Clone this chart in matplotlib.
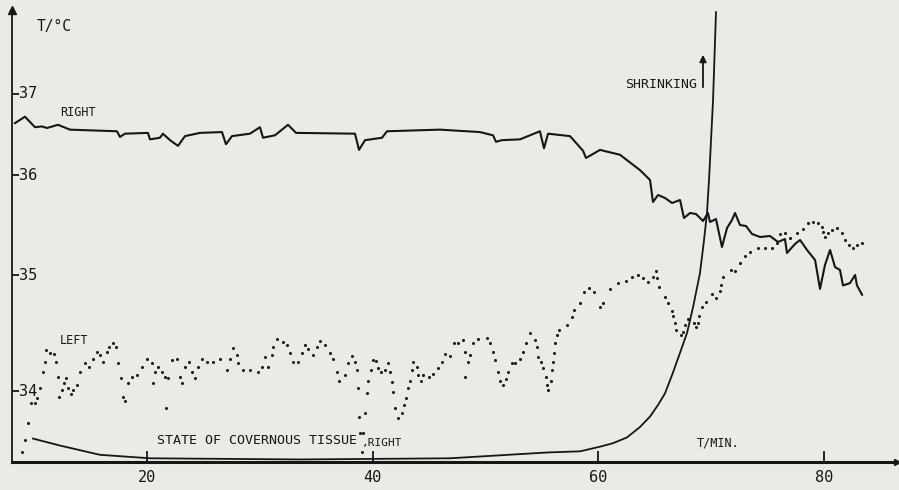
import numpy as np
import matplotlib.pyplot as plt

# time / min and temperature / deg C
right_t = [8.25, 9.14, 10.03, 10.65, 11.09, 12.07, 13.13, 17.30, 17.57, 18.01,
           20.05, 20.23, 21.12, 21.38, 22.01, 22.72, 23.34, 24.67, 26.62, 26.97,
           27.51, 29.10, 29.99, 30.26, 31.32, 32.48, 33.19, 38.42, 38.78, 39.31,
           40.82, 41.26, 45.96, 49.51, 50.67, 50.93, 51.46, 53.06, 54.83, 55.19,
           55.55, 57.50, 58.65, 58.92, 60.16, 61.93, 63.71, 64.60, 64.86, 65.31,
           65.93, 66.55, 67.26, 67.61, 68.15, 68.68, 69.30, 69.74, 69.92, 70.45,
           70.98, 71.43, 71.87, 72.14, 72.58, 73.11, 73.65, 74.36, 75.24, 75.95,
           76.57, 76.75, 77.46, 77.91, 78.53, 79.24, 79.68, 80.12, 80.57, 81.01,
           81.45, 81.72, 82.34, 82.79, 82.96, 83.41]
right_T = [36.64, 36.72, 36.59, 36.60, 36.58, 36.62, 36.56, 36.54, 36.47, 36.51,
           36.52, 36.44, 36.46, 36.51, 36.43, 36.36, 36.48, 36.52, 36.53, 36.38,
           36.48, 36.51, 36.59, 36.46, 36.49, 36.62, 36.52, 36.51, 36.31, 36.43,
           36.46, 36.54, 36.56, 36.53, 36.49, 36.41, 36.43, 36.44, 36.54, 36.33,
           36.51, 36.48, 36.30, 36.21, 36.31, 36.25, 36.06, 35.95, 35.73, 35.80,
           35.77, 35.72, 35.75, 35.57, 35.62, 35.61, 35.54, 35.62, 35.53, 35.56,
           35.28, 35.47, 35.55, 35.62, 35.50, 35.49, 35.41, 35.38, 35.39, 35.33,
           35.36, 35.22, 35.31, 35.35, 35.25, 35.15, 34.88, 35.10, 35.25, 35.08,
           35.05, 34.91, 34.93, 35.00, 34.91, 34.83]

left_t = [8.87, 9.14, 9.41, 9.67, 10.03, 10.20, 10.47, 10.74, 10.91, 11.00,
          11.36, 11.71, 11.89, 12.07, 12.16, 12.42, 12.60, 12.78, 12.95, 13.22,
          13.40, 13.75, 14.02, 14.46, 14.82, 15.17, 15.53, 15.79, 16.06, 16.42,
          16.59, 16.95, 17.21, 17.39, 17.66, 17.83, 18.01, 18.28, 18.63, 19.08,
          19.52, 19.96, 20.41, 20.50, 20.67, 20.94, 21.30, 21.56, 21.65, 21.83,
          22.18, 22.63, 22.89, 23.07, 23.34, 23.69, 23.96, 24.22, 24.49, 24.84,
          25.29, 25.82, 26.44, 27.06, 27.33, 27.60, 27.95, 28.04, 28.48, 29.10,
          29.81, 30.17, 30.43, 30.69, 31.06, 31.14, 31.50, 32.03, 32.38, 32.65,
          32.92, 33.36, 33.72, 33.99, 34.25, 34.69, 35.05, 35.32, 35.76, 36.20,
          36.47, 36.82, 37.00, 37.53, 37.80, 38.15, 38.42, 38.60, 38.69, 38.78,
          38.87, 39.04, 39.13, 39.31, 39.49, 39.57, 39.84, 40.02, 40.28, 40.46,
          40.73, 41.08, 41.35, 41.53, 41.70, 41.79, 41.97, 42.24, 42.59, 42.77,
          42.95, 43.12, 43.30, 43.48, 43.57, 43.92, 44.01, 44.28, 44.45, 44.99,
          45.34, 45.79, 46.14, 46.41, 46.85, 47.21, 47.56, 48.00, 48.14, 48.22,
          48.45, 48.62, 48.89, 49.33, 50.13, 50.40, 50.67, 50.84, 51.11, 51.29,
          51.55, 51.82, 52.00, 52.35, 52.62, 53.06, 53.33, 53.59, 53.95, 54.39,
          54.57, 54.66, 54.92, 55.10, 55.37, 55.46, 55.55, 55.81, 55.90, 55.99,
          56.07, 56.17, 56.34, 56.52, 57.23, 57.68, 57.85, 58.39, 58.74, 59.19,
          59.63, 60.16, 60.43, 61.05, 61.76, 62.47, 63.00, 63.53, 63.98, 64.42,
          64.86, 65.13, 65.22, 65.40, 65.93, 66.19, 66.55, 66.64, 66.81, 66.90,
          67.35, 67.52, 67.70, 67.97, 68.50, 68.68, 68.86, 68.94, 69.21, 69.57,
          70.10, 70.45, 70.81, 70.90, 71.07, 71.78, 72.14, 72.58, 73.02, 73.47,
          74.18, 74.80, 75.42, 75.87, 76.13, 76.57, 77.02, 77.64,
          78.17, 78.61, 79.06, 79.50, 79.86, 79.95, 80.12, 80.39, 80.74, 81.19,
          81.63, 81.90, 82.25, 82.61, 82.96, 83.41]
left_T = [33.47, 33.58, 33.72, 33.90, 33.90, 33.94, 34.03, 34.16, 34.25, 34.35,
          34.33, 34.32, 34.25, 34.12, 33.95, 34.01, 34.07, 34.11, 34.03, 33.97,
          34.01, 34.05, 34.16, 34.24, 34.21, 34.28, 34.34, 34.31, 34.25, 34.34,
          34.38, 34.41, 34.38, 34.24, 34.11, 33.95, 33.91, 34.07, 34.12, 34.14,
          34.21, 34.28, 34.24, 34.07, 34.16, 34.21, 34.16, 34.12, 33.85, 34.11,
          34.27, 34.28, 34.12, 34.07, 34.21, 34.25, 34.16, 34.11, 34.21, 34.28,
          34.25, 34.25, 34.28, 34.18, 34.28, 34.37, 34.31, 34.24, 34.18, 34.18,
          34.16, 34.21, 34.29, 34.21, 34.31, 34.38, 34.45, 34.42, 34.40, 34.33,
          34.25, 34.25, 34.33, 34.40, 34.36, 34.31, 34.38, 34.43, 34.40, 34.33,
          34.28, 34.16, 34.09, 34.14, 34.24, 34.30, 34.25, 34.18, 34.03, 33.78,
          33.64, 33.47, 33.64, 33.81, 33.98, 34.09, 34.18, 34.27, 34.26, 34.20,
          34.16, 34.18, 34.24, 34.16, 34.08, 33.99, 33.85, 33.77, 33.81, 33.88,
          33.94, 34.03, 34.09, 34.18, 34.25, 34.21, 34.14, 34.09, 34.14, 34.12,
          34.15, 34.20, 34.25, 34.32, 34.30, 34.41, 34.41, 34.44, 34.34, 34.12,
          34.25, 34.31, 34.41, 34.45, 34.46, 34.41, 34.34, 34.27, 34.16, 34.09,
          34.05, 34.10, 34.16, 34.24, 34.24, 34.28, 34.34, 34.41, 34.50, 34.44,
          34.38, 34.29, 34.25, 34.20, 34.12, 34.05, 34.01, 34.09, 34.18, 34.25,
          34.33, 34.41, 34.48, 34.53, 34.57, 34.64, 34.70, 34.76, 34.85, 34.89,
          34.85, 34.72, 34.76, 34.88, 34.93, 34.95, 34.98, 35.00, 34.97, 34.94,
          34.98, 35.04, 34.97, 34.90, 34.81, 34.76, 34.69, 34.65, 34.59, 34.53,
          34.48, 34.51, 34.57, 34.62, 34.59, 34.55, 34.59, 34.65, 34.72, 34.77,
          34.84, 34.80, 34.86, 34.91, 34.98, 35.05, 35.04, 35.12, 35.19, 35.23,
          35.27, 35.27, 35.27, 35.32, 35.41, 35.42, 35.37, 35.42,
          35.46, 35.52, 35.53, 35.52, 35.48, 35.43, 35.38, 35.42, 35.45, 35.47,
          35.42, 35.35, 35.30, 35.27, 35.30, 35.32]

# state of the covernous tissue, drawn in the temperature frame
tissue_t = [9.85, 12.24, 15.79, 20.23, 33.54, 46.85, 55.46, 58.39, 60.16, 61.31,
            62.56, 63.71, 64.60, 65.31, 65.93, 66.64, 67.26, 67.88, 68.41, 69.03,
            69.39, 69.65, 69.83, 70.01, 70.19, 70.45]
tissue_v = [33.59, 33.53, 33.45, 33.42, 33.41, 33.42, 33.47, 33.48, 33.52, 33.55,
            33.60, 33.69, 33.78, 33.88, 33.98, 34.16, 34.33, 34.50, 34.72, 35.02,
            35.35, 35.62, 35.95, 36.43, 36.93, 38.01]

x_ticks = [20, 40, 60, 80]
y_ticks = [34, 35, 36, 37]

# the hand drawn temperature axis is not evenly spaced
knot_T = [32, 34, 35, 36, 37, 39]
knot_p = [-623, -391, -275, -175, -94, 68]


def fwd(v):
    return np.interp(v, knot_T, knot_p)


def inv(p):
    return np.interp(p, knot_p, knot_T)


ink = '#161616'
paper = '#eaeae6'
plt.rcParams['font.family'] = 'DejaVu Sans Mono'

W, H = 899, 490
fig = plt.figure(figsize=(W / 100, H / 100), dpi=100, facecolor=paper)
ax = fig.add_axes([12 / W, 28 / H, 885 / W, 452 / H])
ax.set_facecolor(paper)
ax.set_yscale('function', functions=(fwd, inv))
ax.set_xlim(7.99, 86.51)
ax.set_ylim(33.388, 38.037)

ax.plot(right_t, right_T, color=ink, lw=1.5)
ax.plot(left_t, left_T, ls='none', marker='o', ms=2.2, mew=0, color=ink)
ax.plot(tissue_t, tissue_v, color=ink, lw=1.3)

for s in ['top', 'right']:
    ax.spines[s].set_visible(False)
ax.spines['left'].set_linewidth(1.3)
ax.spines['bottom'].set_linewidth(2.2)
ax.spines['left'].set_color(ink)
ax.spines['bottom'].set_color(ink)
ax.plot([0], [1], marker='^', ms=6, color=ink, transform=ax.transAxes, clip_on=False)
ax.plot([1], [0], marker='>', ms=5, color=ink, transform=ax.transAxes, clip_on=False)

ax.set_xticks(x_ticks)
ax.tick_params(axis='x', direction='in', length=8, width=1.3, color=ink,
               labelsize=11, pad=6, labelcolor=ink)
ax.set_yticks(y_ticks)
ax.minorticks_off()
ax.tick_params(axis='y', direction='in', length=5, width=1.3, color=ink, labelleft=False)
for v in y_ticks:
    ax.text(0.008, v, str(v), transform=ax.get_yaxis_transform(), ha='left',
            va='center', fontsize=11, color=ink)


def label(px, py, s, size):
    fig.text(px / W, 1 - py / H, s, fontsize=size, color=ink, ha='left', va='center')


label(37, 27, 'T/°C', 10.5)
label(60, 112, 'RIGHT', 8.5)
label(60, 340, 'LEFT', 8.5)
label(157, 440, 'STATE OF COVERNOUS TISSUE', 9.6)
label(362, 443, ',RIGHT', 8)
label(625, 84, 'SHRINKING', 9.5)
label(697, 443, 'T/MIN.', 8.5)
ax.annotate('', xy=(703 / W, 1 - 52 / H), xytext=(703 / W, 1 - 90 / H),
            xycoords='figure fraction',
            arrowprops=dict(arrowstyle='-|>', lw=1.3, color=ink, mutation_scale=10))

fig.savefig('out.png', dpi=100, facecolor=paper)
